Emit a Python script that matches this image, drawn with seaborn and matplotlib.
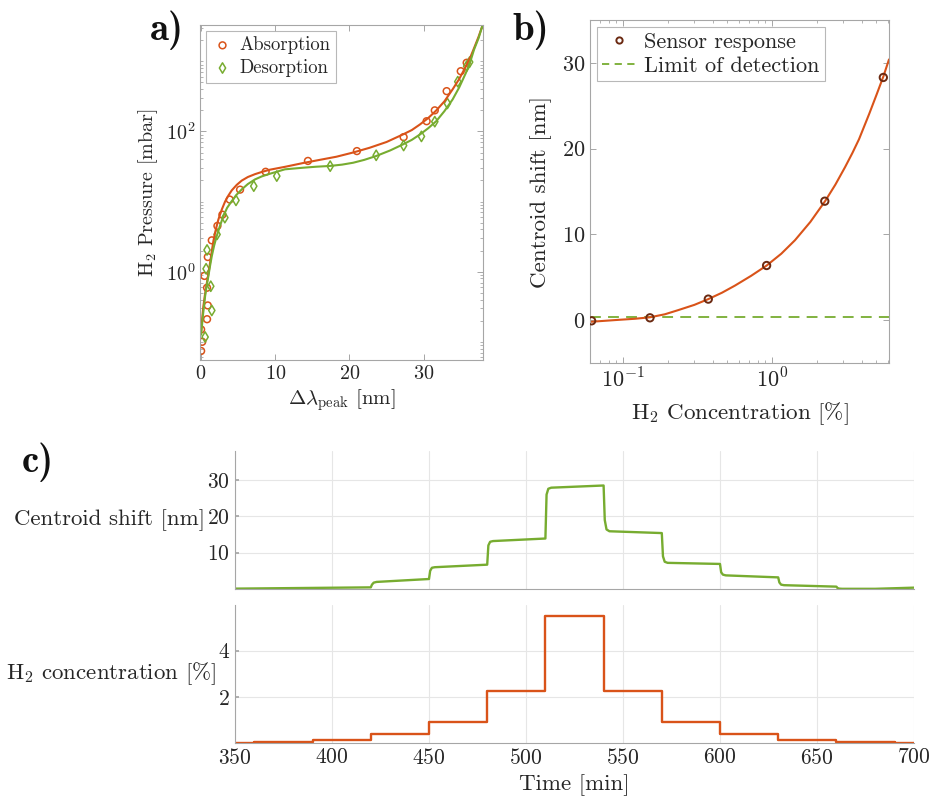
import matplotlib
matplotlib.use("Agg")
import matplotlib.pyplot as plt
import seaborn as sns
from matplotlib.ticker import FixedLocator, NullFormatter, LogLocator, FixedFormatter
from matplotlib.lines import Line2D

sns.set_theme(style="white")
plt.rcParams["font.family"] = ["cmr10", "DejaVu Serif"]
plt.rcParams["mathtext.fontset"] = "cm"
plt.rcParams["axes.formatter.use_mathtext"] = True
plt.rcParams["axes.unicode_minus"] = False

ORANGE = "#D95319"
GREEN = "#77AC30"
MARK_B = "#6B2A12"
SPINE = "#a6a6a6"
TXT = "#262626"

# ---------------- data: panel a ----------------
abs_shift = [0.0, 0.15, 0.0, 0.8, 0.9, 0.8, 0.45, 0.9, 1.44, 2.2, 2.87, 3.85, 5.25, 8.7,
             14.4, 21.0, 27.3, 30.4, 31.5, 33.1, 35.0, 35.8]
abs_press = [0.074, 0.10, 0.15, 0.21, 0.33, 0.59, 0.87, 1.62, 2.8, 4.5, 6.5, 10.7, 14.8, 26.6,
             38, 52.5, 83, 140, 200, 376, 724, 955]
des_shift = [0.54, 1.44, 1.3, 0.67, 0.8, 2.15, 3.2, 4.7, 7.1, 10.2, 17.4, 23.6, 27.3, 29.7,
             31.5, 33.2, 34.6, 35.8, 36.2]
des_press = [0.117, 0.28, 0.62, 1.10, 2.04, 3.4, 5.9, 10.4, 16.6, 23.1, 32, 45.7, 63, 85,
             138, 251, 513, 851, 977]
abs_fit_shift = [0.0, 0.15, 0.31, 0.5, 0.76, 1.0, 1.21, 1.45, 1.66, 2.0, 2.33, 2.8, 3.23, 3.7,
                 4.13, 4.8, 5.47, 6.3, 7.26, 8.2, 9.28, 11.3, 13.76, 16.0, 18.25, 20.5, 22.7,
                 25.0, 27.2, 28.4, 29.5, 30.6, 31.7, 32.8, 33.9, 34.8, 35.7, 36.3, 36.8, 37.4,
                 37.9]
abs_fit_press = [0.141, 0.219, 0.324, 0.457, 0.676, 0.955, 1.343, 1.995, 2.754, 4.074, 5.559,
                 7.762, 10.0, 12.30, 14.45, 17.3, 19.9, 22.4, 24.6, 26.5, 28.5, 31.3,
                 35.48, 39.36, 43.65, 50.12, 58.48, 70.79, 90.57, 104.7, 125.9, 154.9, 199.5,
                 269.2, 398.1, 562.3, 851.1, 1148, 1549, 2239, 3162]
des_fit_shift = [0.0, 0.25, 0.54, 0.75, 0.98, 1.2, 1.44, 1.75, 2.1, 2.5, 3.0, 3.5, 4.13, 4.8,
                 5.47, 6.3, 7.26, 8.2, 9.28, 11.3, 13.76, 15.5, 17.35, 19.0, 20.5, 22.0, 23.6,
                 25.5, 27.2, 28.4, 29.5, 30.6, 31.7, 32.8, 33.9, 34.8, 35.7, 36.3, 36.8, 37.4,
                 37.9]
des_fit_press = [0.126, 0.240, 0.447, 0.631, 0.865, 1.202, 1.667, 2.344, 3.214, 4.365, 6.209,
                 8.128, 10.16, 12.59, 14.89, 17.78, 20.70, 22.91, 24.95, 28.84, 30.41, 31.41,
                 32.21, 33.65, 35.81, 39.36, 44.67, 53.70, 65.31, 75.86, 90.57, 110.9, 140.3,
                 195.0, 285.8, 426.6, 687.1, 1000, 1479, 2138, 3162]

# ---------------- data: panel b ----------------
b_conc = [0.0613, 0.151, 0.372, 0.916, 2.25, 5.56]
b_shift = [-0.08, 0.27, 2.45, 6.37, 13.87, 28.3]
b_fit_conc = [0.0598, 0.075, 0.0925, 0.12, 0.151, 0.19, 0.234, 0.30, 0.372, 0.46, 0.562,
              0.72, 0.917, 1.15, 1.42, 1.8, 2.26, 2.65, 3.08, 3.45, 3.82, 4.47, 5.01, 5.56,
              6.07]
b_fit_shift = [-0.2, -0.08, 0.03, 0.16, 0.33, 0.68, 1.17, 1.78, 2.45, 3.2, 4.03, 5.16, 6.37,
               7.75, 9.32, 11.45, 13.87, 15.8, 17.85, 19.5, 21.1, 24.05, 26.3, 28.4, 30.4]
lod_conc = [0.06, 6.1]
lod_shift = [0.35, 0.35]

# ---------------- data: panel c ----------------
c_time = [350, 380, 420, 420.6, 421.5, 423, 450, 450.6, 451.5, 453, 480, 480.6, 481.5, 483,
          510, 510.6, 511.5, 513, 540, 540.6, 541.5, 543, 570, 570.6, 571.5, 573, 600, 600.6,
          601.5, 603, 630, 630.6, 631.5, 633, 660, 660.6, 661.5, 663, 680, 700]
c_shift = [0.1, 0.25, 0.45, 1.2, 1.75, 1.95, 2.75, 5.0, 5.85, 6.0, 6.7, 12.0, 13.0, 13.2,
           13.9, 26.0, 27.6, 27.9, 28.5, 19.0, 16.4, 15.9, 15.4, 9.0, 7.5, 7.2, 6.9, 4.6,
           3.95, 3.75, 3.2, 1.8, 1.2, 1.05, 0.65, 0.25, 0.1, 0.05, 0.05, 0.37]
step_time = [350, 360, 390, 420, 450, 480, 510, 540, 570, 600, 630, 660, 690, 700]
step_conc = [0.0, 0.06, 0.15, 0.37, 0.9, 2.25, 5.5, 2.25, 0.9, 0.37, 0.15, 0.06, 0.0, 0.0]

W, H = 930, 797
fig = plt.figure(figsize=(W / 100, H / 100), dpi=100)


def box(l, t, r, b):
    return fig.add_axes([l / W, 1 - b / H, (r - l) / W, (b - t) / H])


def style_box(ax, fs):
    for s in ax.spines.values():
        s.set_color(SPINE)
        s.set_linewidth(0.8)
    ax.tick_params(which="both", direction="in", top=True, right=True, bottom=True, left=True,
                   color=SPINE, labelcolor=TXT, labelsize=fs)
    ax.tick_params(which="major", length=4, width=0.7)
    ax.tick_params(which="minor", length=2, width=0.6)


# ---------------- panel a ----------------
axa = box(200, 25, 483, 360)
sns.lineplot(x=abs_fit_shift, y=abs_fit_press, ax=axa, color=ORANGE, lw=1.5, sort=False,
             estimator=None, legend=False)
sns.lineplot(x=des_fit_shift, y=des_fit_press, ax=axa, color=GREEN, lw=1.5, sort=False,
             estimator=None, legend=False)
sns.scatterplot(x=abs_shift, y=abs_press, ax=axa, marker="o", s=24, facecolor="none",
                edgecolor=ORANGE, linewidth=1.1, label="Absorption")
sns.scatterplot(x=des_shift, y=des_press, ax=axa, marker="d", s=28, facecolor="none",
                edgecolor=GREEN, linewidth=1.1, label="Desorption")
axa.set_yscale("log")
axa.set_xlim(-0.15, 38)
axa.set_ylim(0.055, 3300)
axa.xaxis.set_major_locator(FixedLocator([0, 10, 20, 30]))
axa.yaxis.set_major_locator(FixedLocator([1, 100]))
axa.yaxis.set_minor_locator(LogLocator(base=10, subs=range(1, 10), numticks=20))
axa.yaxis.set_minor_formatter(NullFormatter())
style_box(axa, 14.5)
axa.set_xlabel(r"$\Delta\lambda_{\mathrm{peak}}$ [nm]", fontsize=15, color=TXT)
axa.set_ylabel(r"H$_2$ Pressure [mbar]", fontsize=14.5, color=TXT)
axa.xaxis.set_label_coords(0.5, -0.08)
axa.yaxis.set_label_coords(-0.14, 0.5)
leg = axa.legend(loc="upper left", fontsize=13.5, frameon=True, fancybox=False,
                 handletextpad=0.3, borderpad=0.3, labelspacing=0.25, handlelength=1.2,
                 borderaxespad=0.3)
leg.get_frame().set_edgecolor(SPINE)
leg.get_frame().set_linewidth(0.8)

# ---------------- panel b ----------------
axb = box(590, 20, 889, 363)
sns.lineplot(x=lod_conc, y=lod_shift, ax=axb, color=GREEN, lw=1.3, dashes=False,
             linestyle=(0, (6, 4)), estimator=None, legend=False)
sns.lineplot(x=b_fit_conc, y=b_fit_shift, ax=axb, color=ORANGE, lw=1.5, sort=False,
             estimator=None, legend=False)
sns.scatterplot(x=b_conc, y=b_shift, ax=axb, marker="o", s=28, facecolor="none",
                edgecolor=MARK_B, linewidth=1.4, zorder=5)
axb.set_xscale("log")
axb.set_xlim(0.0598, 6.07)
axb.set_ylim(-5, 35)
axb.yaxis.set_major_locator(FixedLocator([0, 10, 20, 30]))
axb.xaxis.set_major_locator(FixedLocator([0.1, 1]))
axb.xaxis.set_major_formatter(FixedFormatter([r"$10^{-1}$", r"$10^{0}$"]))
axb.xaxis.set_minor_locator(LogLocator(base=10, subs=range(1, 10), numticks=20))
axb.xaxis.set_minor_formatter(NullFormatter())
style_box(axb, 16)
axb.set_xlabel(r"H$_2$ Concentration [%]", fontsize=16.6, color=TXT)
axb.set_ylabel("Centroid shift [nm]", fontsize=16.6, color=TXT)
axb.xaxis.set_label_coords(0.5, -0.11)
axb.yaxis.set_label_coords(-0.127, 0.5)
hb = [Line2D([], [], marker="o", ls="none", mfc="none", mec=MARK_B, mew=1.4, ms=4.5),
      Line2D([], [], color=GREEN, lw=1.3, ls=(0, (4, 3)))]
legb = axb.legend(hb, ["Sensor response", "Limit of detection"], loc="upper left",
                  fontsize=16, frameon=True, fancybox=False, handletextpad=0.4,
                  borderpad=0.25, labelspacing=0.2, handlelength=1.5, borderaxespad=0.3)
legb.get_frame().set_edgecolor(SPINE)
legb.get_frame().set_linewidth(0.8)


# ---------------- panel c ----------------
def style_c(ax):
    ax.grid(True, color="#e6e6e6", lw=0.8)
    ax.set_axisbelow(True)
    for k in ("top", "right"):
        ax.spines[k].set_visible(False)
    for k in ("left", "bottom"):
        ax.spines[k].set_color(SPINE)
        ax.spines[k].set_linewidth(0.8)
    ax.tick_params(which="both", direction="in", left=True, bottom=False, color=SPINE,
                   labelcolor=TXT, labelsize=15.5, length=3)
    ax.set_xlim(350, 700)
    ax.xaxis.set_major_locator(FixedLocator(list(range(350, 701, 50))))


axc1 = box(235, 451, 914, 589)
sns.lineplot(x=c_time, y=c_shift, ax=axc1, color=GREEN, lw=1.7, sort=False, estimator=None,
             legend=False)
style_c(axc1)
axc1.set_ylim(0, 38)
axc1.yaxis.set_major_locator(FixedLocator([10, 20, 30]))
axc1.tick_params(labelbottom=False)
axc1.set_xlabel("")
axc1.set_ylabel("Centroid shift [nm]", rotation=0, ha="right", va="center", fontsize=16.5,
                color=TXT)
axc1.yaxis.set_label_coords(-0.044, 0.5)

axc2 = box(235, 605, 914, 743)
sns.lineplot(x=step_time, y=step_conc, ax=axc2, color=ORANGE, lw=1.7, drawstyle="steps-post",
             estimator=None, legend=False)
style_c(axc2)
axc2.set_ylim(0, 5.97)
axc2.yaxis.set_major_locator(FixedLocator([2, 4]))
axc2.set_xlabel("Time [min]", fontsize=16.5, color=TXT)
axc2.xaxis.set_label_coords(0.5, -0.225)
axc2.set_ylabel(r"H$_2$ concentration [%]", rotation=0, ha="right", va="center",
                fontsize=16.5, color=TXT)
axc2.yaxis.set_label_coords(-0.028, 0.5)

# ---------------- panel labels ----------------
for txt, x, y in (("a)", 150, 30), ("b)", 512, 30), ("c)", 22, 462)):
    fig.text(x / W, 1 - y / H, txt, fontsize=28, family="cmb10", color="#111111",
             ha="left", va="center")

fig.savefig("out.png", dpi=100)
